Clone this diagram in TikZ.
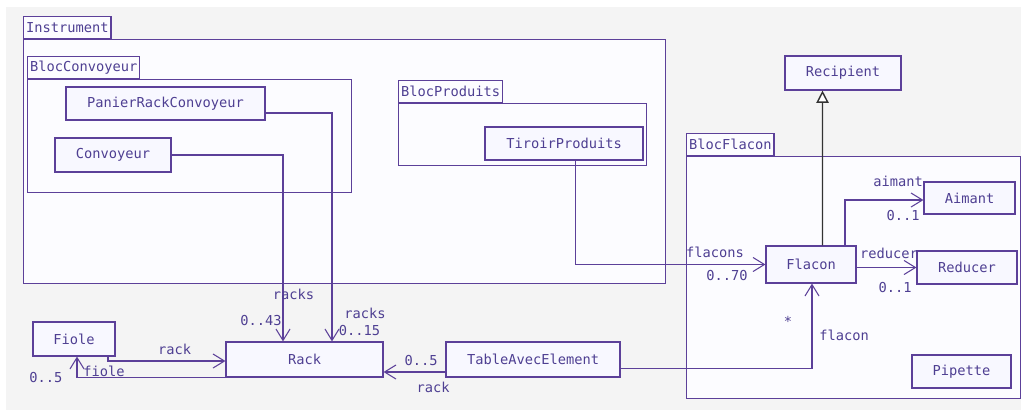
\documentclass[tikz,border=0pt]{standalone}
\usepackage{fontspec}
\usepackage{tikz}
\usetikzlibrary{arrows.meta}
\usetikzlibrary{positioning}
\newfontfamily\umlfont{DejaVu Sans Mono}
\newcommand{\pxu}{0.02cm}
\definecolor{umlline}{HTML}{5C4099}
\definecolor{umltext}{HTML}{4E3F92}
\definecolor{clsfill}{HTML}{F8F8FF}
\definecolor{pkgfill}{HTML}{FCFCFF}
\definecolor{backgr}{HTML}{F4F4F4}
\definecolor{genline}{HTML}{333333}

\begin{document}
\begin{tikzpicture}[
    x=0.02cm, y=-0.02cm,
every node/.style = {inner sep=0pt, text=umltext, font=\umlfont\fontsize{7.8}{9}\selectfont},
      box/.style 2 args = {minimum width=#1*\pxu, minimum height=#2*\pxu},
      cls/.style = {draw=umlline, fill=clsfill, line width=0.65pt},
      pkg/.style = {draw=umlline, fill=pkgfill, line width=0.65pt, anchor=north west},
      tab/.style = {draw=umlline, fill=pkgfill, line width=0.65pt, anchor=south west,
                    inner xsep=1.4pt, minimum height=22*\pxu},
    assoc/.style = {draw=umlline, line width=0.6pt, -{Straight Barb[length=6.5pt,width=8pt]}},
      gen/.style = {draw=genline, line width=0.8pt, -{Triangle[open,length=7pt,width=7pt,fill=white]}}]
\useasboundingbox (0,0) rectangle (1021,410);
\fill[backgr] (6,7) rectangle (1021,410);

% packages
\node[pkg, box={642}{244}] (instr) at (23,39) {};
\node[tab] (instrtab) at (instr.north west) {Instrument};
\node[pkg, box={324}{113}] (blocconv) at (27,79) {};
\node[tab] (blocconvtab) at (blocconv.north west) {BlocConvoyeur};
\node[pkg, box={248}{62}] (blocprod) at (398,103) {};
\node[tab] (blocprodtab) at (blocprod.north west) {BlocProduits};
\node[pkg, box={333.5}{242}] (blocflac) at (686,156) {};
\node[tab] (blocflactab) at (blocflac.north west) {BlocFlacon};

% classes
\node[cls, box={199}{33}] (panier) at (165.5,103.5) {PanierRackConvoyeur};
\node[cls, box={116}{34}] (convoy) at (113,155) {Convoyeur};
\node[cls, box={158}{33}] (tiroir) at (564,143.5) {TiroirProduits};
\node[cls, box={116}{34}] (recip) at (843,73) {Recipient};
\node[cls, box={90}{37}] (flacon) at (811,264.5) {Flacon};
\node[cls, box={91}{32}] (aimant) at (969.5,198) {Aimant};
\node[cls, box={100}{33}] (reducer) at (967,267.5) {Reducer};
\node[cls, box={99}{33}] (pipette) at (961.5,371.5) {Pipette};
\node[cls, box={82}{34}] (fiole) at (74,339) {Fiole};
\node[cls, box={157}{35}] (rack) at (304.5,359.5) {Rack};
\node[cls, box={174}{35}] (table) at (533,359.5) {TableAvecElement};

% associations
\draw[assoc] ([yshift=-0.19cm]panier.east) -| ([xshift=0.55cm]rack.north);
\draw[assoc] (convoy.east) -| ([xshift=-0.43cm]rack.north);
\draw[assoc] ([xshift=0.23cm]tiroir.south) |- (flacon.west);
\draw[assoc] ([xshift=0.68cm]fiole.south) |- ([yshift=-0.03cm]rack.west);
\draw[assoc] (rack.south west) -| ([xshift=0.06cm]fiole.south);
\draw[assoc] ([yshift=-0.25cm]table.west) -- ([yshift=-0.25cm]rack.east);
\draw[assoc] ([yshift=-0.18cm]table.east) -| ([xshift=0.02cm]flacon.south);
\draw[assoc] ([xshift=0.68cm]flacon.north) |- ([yshift=-0.04cm]aimant.west);
\draw[assoc] (flacon.east |- reducer.west) -- (reducer.west);
\draw[gen] ([xshift=0.23cm]flacon.north) -- ([xshift=-0.41cm]recip.south);

% roles and multiplicities
\node (convrole) at (293.5,294) {racks};
\node (convmult) at (261,321) {0..43};
\node (panrole) at (365,313) {racks};
\node (panmult) at (359.5,331) {0..15};
\node (rackrole) at (174.5,349) {rack};
\node (fiolerole) at (104,371) {fiole};
\node (fiolemult) at (46,378) {0..5};
\node (tablemult) at (421,361) {0..5};
\node (tablerole) at (433,387) {rack};
\node (flacmult) at (788,321) {*};
\node (flacrole) at (844,335) {flacon};
\node (tirrole) at (715,252) {flacons};
\node (tirmult) at (727,276) {0..70};
\node (aimrole) at (898,181) {aimant};
\node (aimmult) at (903,216) {0..1};
\node (redrole) at (889,253) {reducer};
\node (redmult) at (895,288) {0..1};
\end{tikzpicture}
\end{document}
